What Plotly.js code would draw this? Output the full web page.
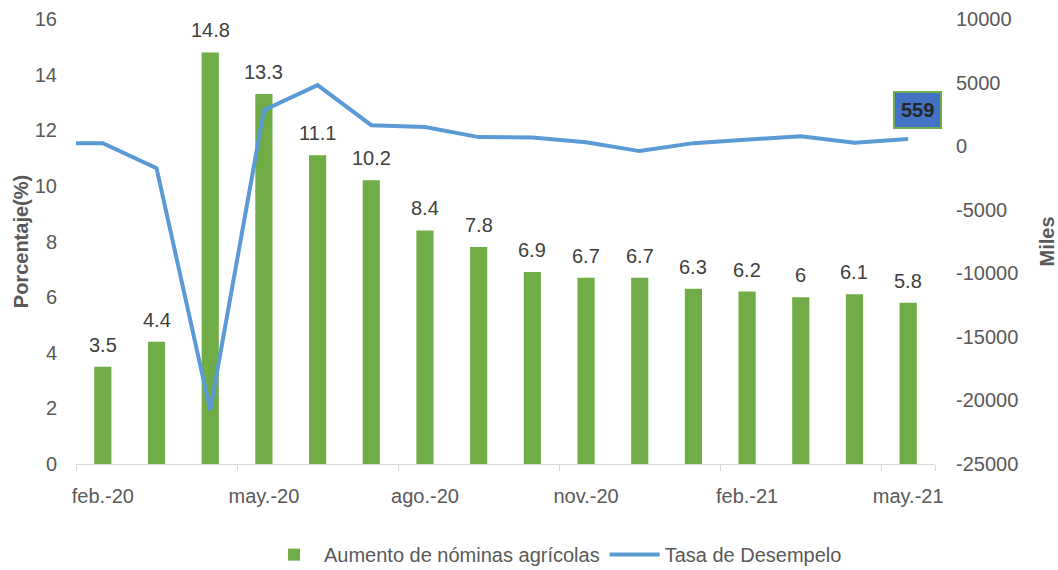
<!DOCTYPE html>
<html>
<head>
<meta charset="utf-8">
<script src="https://cdn.plot.ly/plotly-3.0.1.min.js"></script>
<style>html,body{margin:0;padding:0;background:#fff;}#chart{width:1058px;height:570px;}</style>
</head>
<body>
<div id="chart"></div>
<script>
const months = ['feb.-20','mar.-20','abr.-20','may.-20','jun.-20','jul.-20','ago.-20','sep.-20','oct.-20','nov.-20','dic.-20','ene.-21','feb.-21','mar.-21','abr.-21','may.-21'];
const lineMonths = ['ene.-20'].concat(months);
const nominas = [3.5, 4.4, 14.8, 13.3, 11.1, 10.2, 8.4, 7.8, 6.9, 6.7, 6.7, 6.3, 6.2, 6, 6.1, 5.8];
const desempleo = [236, 236, -1730, -20760, 2830, 4800, 1650, 1500, 710, 680, 300, -390, 236, 536, 785, 269, 559];
const tickMonths = ['feb.-20','may.-20','ago.-20','nov.-20','feb.-21','may.-21'];
const rightTicks = [-25000, -20000, -15000, -10000, -5000, 0, 5000, 10000];
const rightTickText = ['-25000','-20000','-15000','-10000','-5000','0','5000','10000'];

const FONT = 'Liberation Sans, Arial, sans-serif';
const GREY = '#595959';

const traces = [
  {
    type: 'bar', x: months, y: nominas, name: 'Aumento de nóminas agrícolas',
    marker: {color: '#70AD47'},
    hoverinfo: 'x+y'
  },
  {
    type: 'scatter', mode: 'lines', x: lineMonths, y: desempleo, yaxis: 'y2',
    name: 'Tasa de Desempelo',
    line: {color: '#5B9BD5', width: 4}
  }
];

const barLabels = months.map((m, i) => ({
  x: m, y: nominas[i], xref: 'x', yref: 'y',
  text: String(nominas[i]), showarrow: false,
  yanchor: 'bottom', yshift: 9,
  font: {family: FONT, size: 20, color: '#404040'}
}));

const lastIdx = lineMonths.length - 1;
const layout = {
  width: 1058, height: 570,
  margin: {l: 76, r: 123, t: 19, b: 106},
  paper_bgcolor: '#fff', plot_bgcolor: '#fff',
  font: {family: FONT, size: 20, color: GREY},
  bargap: 0.68,
  showlegend: true,
  legend: {
    orientation: 'h', xref: 'container', yref: 'container',
    x: 0.525, xanchor: 'center', y: 0.027, yanchor: 'middle',
    font: {family: FONT, size: 20, color: GREY},
    itemwidth: 50, traceorder: 'normal'
  },
  xaxis: {
    type: 'category', categoryorder: 'array', categoryarray: lineMonths,
    range: [0.5, 16.5],
    tickmode: 'array', tickvals: tickMonths, ticktext: tickMonths,
    tickangle: 0, ticklabelstandoff: 14,
    tickson: 'boundaries', ticks: 'outside', ticklen: 6, tickcolor: '#D9D9D9',
    showline: true, linecolor: '#D9D9D9', linewidth: 1,
    showgrid: false, zeroline: false,
    tickfont: {family: FONT, size: 20, color: GREY}
  },
  yaxis: {
    range: [0, 16], dtick: 2, tick0: 0,
    showgrid: false, zeroline: false, showline: false, ticks: '',
    ticklabelstandoff: 18,
    tickfont: {family: FONT, size: 20, color: GREY},
    title: {text: 'Porcentaje(%)', font: {family: FONT, size: 20, color: GREY, weight: 'bold'}, standoff: 0}
  },
  yaxis2: {
    overlaying: 'y', side: 'right', range: [-25000, 10000],
    tickmode: 'array', tickvals: rightTicks, ticktext: rightTickText,
    showgrid: false, zeroline: false, showline: false, ticks: '',
    ticklabelstandoff: 20,
    tickfont: {family: FONT, size: 20, color: GREY},
    title: {text: 'Miles', font: {family: FONT, size: 20, color: GREY, weight: 'bold'}, standoff: 22}
  },
  annotations: barLabels.concat([{
    x: lineMonths[lastIdx], y: desempleo[lastIdx], xref: 'x', yref: 'y2',
    text: '<b>' + desempleo[lastIdx] + '</b>', showarrow: false,
    xshift: 9, yshift: 29,
    bgcolor: '#4472C4', bordercolor: '#70AD47', borderwidth: 2, borderpad: 6,
    font: {family: FONT, size: 20, color: '#262626'}
  }])
};

Plotly.newPlot('chart', traces, layout, {displayModeBar: false, staticPlot: true});
</script>
</body>
</html>
